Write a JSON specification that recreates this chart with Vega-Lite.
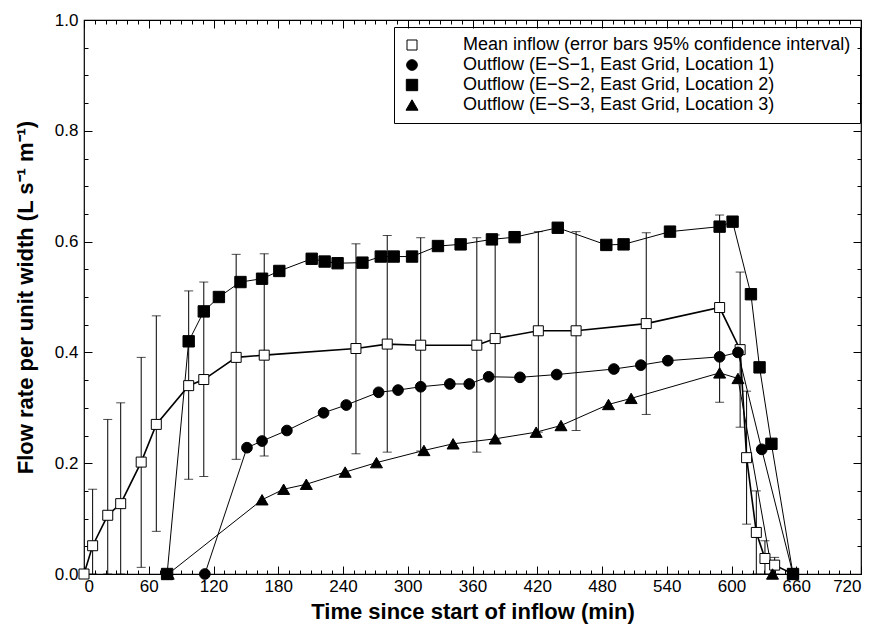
{
  "$schema": "https://vega.github.io/schema/vega-lite/v6.json",
  "width": 777,
  "height": 554,
  "autosize": {"type": "none"},
  "padding": {"left": 84, "top": 20, "right": 18, "bottom": 61},
  "config": {
    "view": {"stroke": "black", "strokeWidth": 1.2},
    "axis": {"labelFont": "Liberation Sans", "labelFontSize": 17, "labelColor": "black", "titleFont": "Liberation Sans", "titleFontSize": 22, "titleFontWeight": "bold", "titleColor": "black", "tickColor": "black", "tickWidth": 1, "domain": false, "grid": false}
  },
  "data": {"values": [
    {"s": "Mean inflow (error bars 95% confidence interval)", "t": 0, "v": 0.0},
    {"s": "Mean inflow (error bars 95% confidence interval)", "t": 8, "v": 0.051, "lo": 0, "hi": 0.153},
    {"s": "Mean inflow (error bars 95% confidence interval)", "t": 22, "v": 0.106, "lo": 0, "hi": 0.279},
    {"s": "Mean inflow (error bars 95% confidence interval)", "t": 34, "v": 0.127, "lo": 0, "hi": 0.309},
    {"s": "Mean inflow (error bars 95% confidence interval)", "t": 53, "v": 0.202, "lo": 0.012, "hi": 0.391},
    {"s": "Mean inflow (error bars 95% confidence interval)", "t": 67, "v": 0.270, "lo": 0.077, "hi": 0.466},
    {"s": "Mean inflow (error bars 95% confidence interval)", "t": 97, "v": 0.340, "lo": 0.171, "hi": 0.511},
    {"s": "Mean inflow (error bars 95% confidence interval)", "t": 111, "v": 0.351, "lo": 0.176, "hi": 0.527},
    {"s": "Mean inflow (error bars 95% confidence interval)", "t": 141, "v": 0.391, "lo": 0.207, "hi": 0.577},
    {"s": "Mean inflow (error bars 95% confidence interval)", "t": 167, "v": 0.395, "lo": 0.213, "hi": 0.578},
    {"s": "Mean inflow (error bars 95% confidence interval)", "t": 252, "v": 0.407, "lo": 0.217, "hi": 0.596},
    {"s": "Mean inflow (error bars 95% confidence interval)", "t": 281, "v": 0.415, "lo": 0.220, "hi": 0.611},
    {"s": "Mean inflow (error bars 95% confidence interval)", "t": 312, "v": 0.413, "lo": 0.222, "hi": 0.607},
    {"s": "Mean inflow (error bars 95% confidence interval)", "t": 364, "v": 0.413, "lo": 0.220, "hi": 0.607},
    {"s": "Mean inflow (error bars 95% confidence interval)", "t": 381, "v": 0.425, "lo": 0.243, "hi": 0.612},
    {"s": "Mean inflow (error bars 95% confidence interval)", "t": 421, "v": 0.439, "lo": 0.256, "hi": 0.618},
    {"s": "Mean inflow (error bars 95% confidence interval)", "t": 456, "v": 0.439, "lo": 0.259, "hi": 0.618},
    {"s": "Mean inflow (error bars 95% confidence interval)", "t": 521, "v": 0.452, "lo": 0.288, "hi": 0.616},
    {"s": "Mean inflow (error bars 95% confidence interval)", "t": 589, "v": 0.481, "lo": 0.310, "hi": 0.648},
    {"s": "Mean inflow (error bars 95% confidence interval)", "t": 608, "v": 0.405, "lo": 0.265, "hi": 0.545},
    {"s": "Mean inflow (error bars 95% confidence interval)", "t": 614, "v": 0.210, "lo": 0.09, "hi": 0.33},
    {"s": "Mean inflow (error bars 95% confidence interval)", "t": 623, "v": 0.075, "lo": 0.0, "hi": 0.15},
    {"s": "Mean inflow (error bars 95% confidence interval)", "t": 631, "v": 0.028, "lo": 0.0, "hi": 0.06},
    {"s": "Mean inflow (error bars 95% confidence interval)", "t": 640, "v": 0.016, "lo": 0.0, "hi": 0.03},
    {"s": "Mean inflow (error bars 95% confidence interval)", "t": 657, "v": 0.0},
    {"s": "Outflow (E−S−1, East Grid, Location 1)", "t": 112, "v": 0.0},
    {"s": "Outflow (E−S−1, East Grid, Location 1)", "t": 151, "v": 0.228},
    {"s": "Outflow (E−S−1, East Grid, Location 1)", "t": 165, "v": 0.240},
    {"s": "Outflow (E−S−1, East Grid, Location 1)", "t": 188, "v": 0.259},
    {"s": "Outflow (E−S−1, East Grid, Location 1)", "t": 222, "v": 0.291},
    {"s": "Outflow (E−S−1, East Grid, Location 1)", "t": 243, "v": 0.305},
    {"s": "Outflow (E−S−1, East Grid, Location 1)", "t": 273, "v": 0.328},
    {"s": "Outflow (E−S−1, East Grid, Location 1)", "t": 291, "v": 0.332},
    {"s": "Outflow (E−S−1, East Grid, Location 1)", "t": 312, "v": 0.338},
    {"s": "Outflow (E−S−1, East Grid, Location 1)", "t": 339, "v": 0.343},
    {"s": "Outflow (E−S−1, East Grid, Location 1)", "t": 357, "v": 0.343},
    {"s": "Outflow (E−S−1, East Grid, Location 1)", "t": 375, "v": 0.356},
    {"s": "Outflow (E−S−1, East Grid, Location 1)", "t": 404, "v": 0.355},
    {"s": "Outflow (E−S−1, East Grid, Location 1)", "t": 438, "v": 0.360},
    {"s": "Outflow (E−S−1, East Grid, Location 1)", "t": 491, "v": 0.370},
    {"s": "Outflow (E−S−1, East Grid, Location 1)", "t": 516, "v": 0.377},
    {"s": "Outflow (E−S−1, East Grid, Location 1)", "t": 541, "v": 0.385},
    {"s": "Outflow (E−S−1, East Grid, Location 1)", "t": 589, "v": 0.392},
    {"s": "Outflow (E−S−1, East Grid, Location 1)", "t": 606, "v": 0.400},
    {"s": "Outflow (E−S−1, East Grid, Location 1)", "t": 628, "v": 0.225},
    {"s": "Outflow (E−S−1, East Grid, Location 1)", "t": 657, "v": 0.0},
    {"s": "Outflow (E−S−2, East Grid, Location 2)", "t": 77, "v": 0.0},
    {"s": "Outflow (E−S−2, East Grid, Location 2)", "t": 97, "v": 0.420},
    {"s": "Outflow (E−S−2, East Grid, Location 2)", "t": 111, "v": 0.474},
    {"s": "Outflow (E−S−2, East Grid, Location 2)", "t": 125, "v": 0.500},
    {"s": "Outflow (E−S−2, East Grid, Location 2)", "t": 145, "v": 0.527},
    {"s": "Outflow (E−S−2, East Grid, Location 2)", "t": 165, "v": 0.533},
    {"s": "Outflow (E−S−2, East Grid, Location 2)", "t": 181, "v": 0.547},
    {"s": "Outflow (E−S−2, East Grid, Location 2)", "t": 211, "v": 0.569},
    {"s": "Outflow (E−S−2, East Grid, Location 2)", "t": 223, "v": 0.564},
    {"s": "Outflow (E−S−2, East Grid, Location 2)", "t": 235, "v": 0.561},
    {"s": "Outflow (E−S−2, East Grid, Location 2)", "t": 258, "v": 0.562},
    {"s": "Outflow (E−S−2, East Grid, Location 2)", "t": 275, "v": 0.573},
    {"s": "Outflow (E−S−2, East Grid, Location 2)", "t": 287, "v": 0.573},
    {"s": "Outflow (E−S−2, East Grid, Location 2)", "t": 304, "v": 0.573},
    {"s": "Outflow (E−S−2, East Grid, Location 2)", "t": 328, "v": 0.592},
    {"s": "Outflow (E−S−2, East Grid, Location 2)", "t": 349, "v": 0.595},
    {"s": "Outflow (E−S−2, East Grid, Location 2)", "t": 378, "v": 0.604},
    {"s": "Outflow (E−S−2, East Grid, Location 2)", "t": 399, "v": 0.608},
    {"s": "Outflow (E−S−2, East Grid, Location 2)", "t": 439, "v": 0.625},
    {"s": "Outflow (E−S−2, East Grid, Location 2)", "t": 484, "v": 0.594},
    {"s": "Outflow (E−S−2, East Grid, Location 2)", "t": 500, "v": 0.595},
    {"s": "Outflow (E−S−2, East Grid, Location 2)", "t": 543, "v": 0.618},
    {"s": "Outflow (E−S−2, East Grid, Location 2)", "t": 589, "v": 0.627},
    {"s": "Outflow (E−S−2, East Grid, Location 2)", "t": 601, "v": 0.636},
    {"s": "Outflow (E−S−2, East Grid, Location 2)", "t": 618, "v": 0.505},
    {"s": "Outflow (E−S−2, East Grid, Location 2)", "t": 626, "v": 0.373},
    {"s": "Outflow (E−S−2, East Grid, Location 2)", "t": 637, "v": 0.235},
    {"s": "Outflow (E−S−2, East Grid, Location 2)", "t": 657, "v": 0.0},
    {"s": "Outflow (E−S−3, East Grid, Location 3)", "t": 78, "v": 0.0},
    {"s": "Outflow (E−S−3, East Grid, Location 3)", "t": 165, "v": 0.134},
    {"s": "Outflow (E−S−3, East Grid, Location 3)", "t": 185, "v": 0.153},
    {"s": "Outflow (E−S−3, East Grid, Location 3)", "t": 206, "v": 0.162},
    {"s": "Outflow (E−S−3, East Grid, Location 3)", "t": 242, "v": 0.184},
    {"s": "Outflow (E−S−3, East Grid, Location 3)", "t": 271, "v": 0.201},
    {"s": "Outflow (E−S−3, East Grid, Location 3)", "t": 315, "v": 0.223},
    {"s": "Outflow (E−S−3, East Grid, Location 3)", "t": 342, "v": 0.235},
    {"s": "Outflow (E−S−3, East Grid, Location 3)", "t": 381, "v": 0.244},
    {"s": "Outflow (E−S−3, East Grid, Location 3)", "t": 419, "v": 0.256},
    {"s": "Outflow (E−S−3, East Grid, Location 3)", "t": 442, "v": 0.268},
    {"s": "Outflow (E−S−3, East Grid, Location 3)", "t": 486, "v": 0.306},
    {"s": "Outflow (E−S−3, East Grid, Location 3)", "t": 507, "v": 0.317},
    {"s": "Outflow (E−S−3, East Grid, Location 3)", "t": 589, "v": 0.363},
    {"s": "Outflow (E−S−3, East Grid, Location 3)", "t": 606, "v": 0.353},
    {"s": "Outflow (E−S−3, East Grid, Location 3)", "t": 638, "v": 0.0}
  ]},
  "resolve": {"axis": {"x": "independent", "y": "independent"}},
  "layer": [
    {
      "transform": [{"filter": "isValid(datum.hi)"}],
      "mark": {"type": "errorbar", "color": "black", "thickness": 1, "ticks": {"size": 9, "thickness": 1, "color": "black"}},
      "encoding": {
        "x": {"field": "t", "type": "quantitative", "scale": {"domain": [0, 720], "nice": false, "zero": false},
              "axis": {"orient": "bottom", "values": [0,60,120,180,240,300,360,420,480,540,600,660,720], "ticks": false, "tickSize": 0, "labelPadding": 4, "title": "Time since start of inflow (min)", "titlePadding": 7}},
        "y": {"field": "lo", "type": "quantitative", "scale": {"domain": [0, 1], "nice": false},
              "axis": {"orient": "left", "values": [0,0.2,0.4,0.6,0.8,1], "format": ".1f", "ticks": false, "tickSize": 0, "labelPadding": 6, "title": "Flow rate per unit width (L s⁻¹ m⁻¹)", "titlePadding": 17}},
        "y2": {"field": "hi"}
      }
    },
    {
      "transform": [{"filter": "datum.s != 'Mean inflow (error bars 95% confidence interval)'"}],
      "mark": {"type": "line", "color": "black", "strokeWidth": 1},
      "encoding": {
        "x": {"field": "t", "type": "quantitative", "axis": null},
        "y": {"field": "v", "type": "quantitative", "axis": null},
        "detail": {"field": "s", "type": "nominal"}
      }
    },
    {
      "transform": [{"filter": "datum.s == 'Mean inflow (error bars 95% confidence interval)'"}],
      "mark": {"type": "line", "color": "black", "strokeWidth": 1.6},
      "encoding": {
        "x": {"field": "t", "type": "quantitative", "axis": {"orient": "bottom", "values": [0,60,120,180,240,300,360,420,480,540,600,660,720], "labels": false, "tickSize": -8, "title": null}},
        "y": {"field": "v", "type": "quantitative", "axis": {"orient": "left", "values": [0,0.2,0.4,0.6,0.8,1], "labels": false, "tickSize": -8, "title": null}}
      }
    },
    {
      "mark": {"type": "point", "filled": true, "stroke": "black", "strokeWidth": 1, "opacity": 1},
      "encoding": {
        "x": {"field": "t", "type": "quantitative", "axis": {"orient": "bottom", "values": [0,10,20,30,40,50,60,70,80,90,100,110,120,130,140,150,160,170,180,190,200,210,220,230,240,250,260,270,280,290,300,310,320,330,340,350,360,370,380,390,400,410,420,430,440,450,460,470,480,490,500,510,520,530,540,550,560,570,580,590,600,610,620,630,640,650,660,670,680,690,700,710,720], "labels": false, "tickSize": -4, "title": null}},
        "y": {"field": "v", "type": "quantitative", "axis": {"orient": "left", "values": [0,0.05,0.1,0.15,0.2,0.25,0.3,0.35,0.4,0.45,0.5,0.55,0.6,0.65,0.7,0.75,0.8,0.85,0.9,0.95,1], "labels": false, "tickSize": -4, "title": null}},
        "shape": {"field": "s", "type": "nominal", "scale": {"domain": ["Mean inflow (error bars 95% confidence interval)", "Outflow (E−S−1, East Grid, Location 1)", "Outflow (E−S−2, East Grid, Location 2)", "Outflow (E−S−3, East Grid, Location 3)"], "range": ["square", "circle", "square", "triangle-up"]},
          "legend": {"orient": "none", "legendX": 310, "legendY": 7, "title": null, "strokeColor": "black", "padding": 9, "labelFont": "Liberation Sans", "labelFontSize": 18, "labelColor": "black", "labelLimit": 600, "labelOffset": 42, "rowPadding": 2, "symbolSize": 100, "symbolStrokeColor": "black", "symbolStrokeWidth": 1,
            "encode": {"symbols": {"update": {
              "shape": {"signal": "datum.value == 'Outflow (E−S−1, East Grid, Location 1)' ? 'M-1,0H2.6M4.8,0H8.4M4.8,0A1.1,1.1,0,1,1,2.6,0A1.1,1.1,0,1,1,4.8,0Z' : datum.value == 'Outflow (E−S−3, East Grid, Location 3)' ? 'M-1,0H8.4M3.7,-1.1L4.9,1L2.5,1Z' : 'M-1,0H2.8M4.6,0H8.4M2.8,-0.9H4.6V0.9H2.8Z'"},
              "fill": {"signal": "datum.value == 'Mean inflow (error bars 95% confidence interval)' ? 'white' : 'black'"},
              "size": {"value": 100},
              "stroke": {"value": "black"},
              "strokeWidth": {"value": 1},
              "opacity": {"value": 1}
            }}}}},
        "fill": {"field": "s", "type": "nominal", "scale": {"domain": ["Mean inflow (error bars 95% confidence interval)", "Outflow (E−S−1, East Grid, Location 1)", "Outflow (E−S−2, East Grid, Location 2)", "Outflow (E−S−3, East Grid, Location 3)"], "range": ["white", "black", "black", "black"]}},
        "size": {"field": "s", "type": "nominal", "scale": {"domain": ["Mean inflow (error bars 95% confidence interval)", "Outflow (E−S−1, East Grid, Location 1)", "Outflow (E−S−2, East Grid, Location 2)", "Outflow (E−S−3, East Grid, Location 3)"], "range": [100, 144, 100, 144]}}
      }
    },
    {
      "mark": {"type": "point", "opacity": 0},
      "encoding": {
        "x": {"field": "t", "type": "quantitative", "axis": {"orient": "top", "values": [0,60,120,180,240,300,360,420,480,540,600,660,720], "labels": false, "tickSize": -8, "title": null}},
        "y": {"field": "v", "type": "quantitative", "axis": {"orient": "right", "values": [0,0.2,0.4,0.6,0.8,1], "labels": false, "tickSize": -8, "title": null}}
      }
    },
    {
      "mark": {"type": "point", "opacity": 0},
      "encoding": {
        "x": {"field": "t", "type": "quantitative", "axis": {"orient": "top", "values": [0,10,20,30,40,50,60,70,80,90,100,110,120,130,140,150,160,170,180,190,200,210,220,230,240,250,260,270,280,290,300,310,320,330,340,350,360,370,380,390,400,410,420,430,440,450,460,470,480,490,500,510,520,530,540,550,560,570,580,590,600,610,620,630,640,650,660,670,680,690,700,710,720], "labels": false, "tickSize": -4, "title": null}},
        "y": {"field": "v", "type": "quantitative", "axis": {"orient": "right", "values": [0,0.05,0.1,0.15,0.2,0.25,0.3,0.35,0.4,0.45,0.5,0.55,0.6,0.65,0.7,0.75,0.8,0.85,0.9,0.95,1], "labels": false, "tickSize": -4, "title": null}}
      }
    }
  ]
}
